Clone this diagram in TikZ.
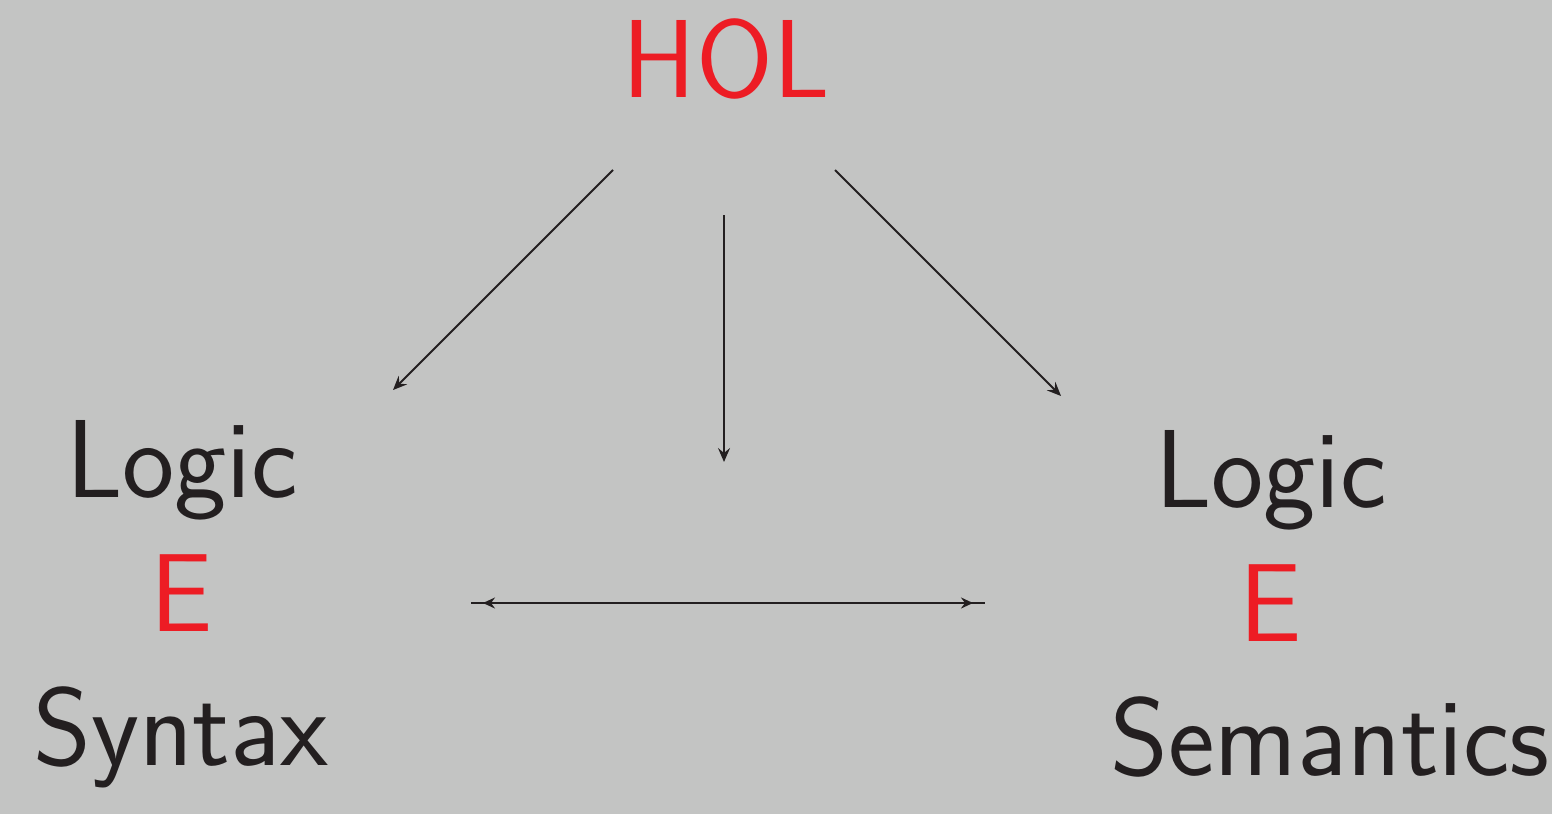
\documentclass[tikz,border=0pt]{standalone}
\usetikzlibrary{arrows.meta}

\definecolor{bggray}{RGB}{195,196,195}
\definecolor{holred}{RGB}{237,28,36}
\definecolor{ink}{RGB}{35,31,32}

\begin{document}
\begin{tikzpicture}[x=0.5pt, y=-0.5pt,
    word/.style={anchor=base, inner sep=0pt, text=ink, font=\sffamily\fontsize{55.5}{66}\selectfont},
    key/.style={word, text=holred},
    link/.style={draw=ink, line width=1pt, -{Stealth[length=7pt, width=6pt, inset=2.5pt]}},
    bar/.style={draw=ink, line width=1pt},
  ]
  % canvas
  \fill[bggray] (0,0) rectangle (1552,814);
  \useasboundingbox (0,0) rectangle (1552,814);

  % top
  \node[key] (hol) at (726,97) {HOL};

  % left column
  \node[word] (synlogic) at (182,497) {Logic};
  \node[key]  (synE)     at (182,631) {E};
  \node[word] (syntax)   at (181,765) {Syntax};

  % right column
  \node[word] (semlogic) at (1271,507) {Logic};
  \node[key]  (semE)     at (1271,641) {E};
  \node[word] (semantics) at (1330,775) {Semantics};

  % arrow ends
  \coordinate (holL) at (613,170);
  \coordinate (holM) at (724,215);
  \coordinate (holR) at (835,170);
  \coordinate (synT) at (393,390);
  \coordinate (midT) at (724,462);
  \coordinate (semT) at (1061,396);
  \coordinate (synS) at (471,603);
  \coordinate (semS) at (985,603);

  % arrows
  \draw[link] (holL) -- (synT);
  \draw[link] (holM) -- (midT);
  \draw[link] (holR) -- (semT);
  \draw[bar] (synS) -- (semS);
  \draw[bar, {Stealth[length=6pt, width=5.5pt, inset=2pt]}-{Stealth[length=6pt, width=5.5pt, inset=2pt]},
        shorten <=6pt, shorten >=6pt] (synS) -- (semS);
\end{tikzpicture}
\end{document}
